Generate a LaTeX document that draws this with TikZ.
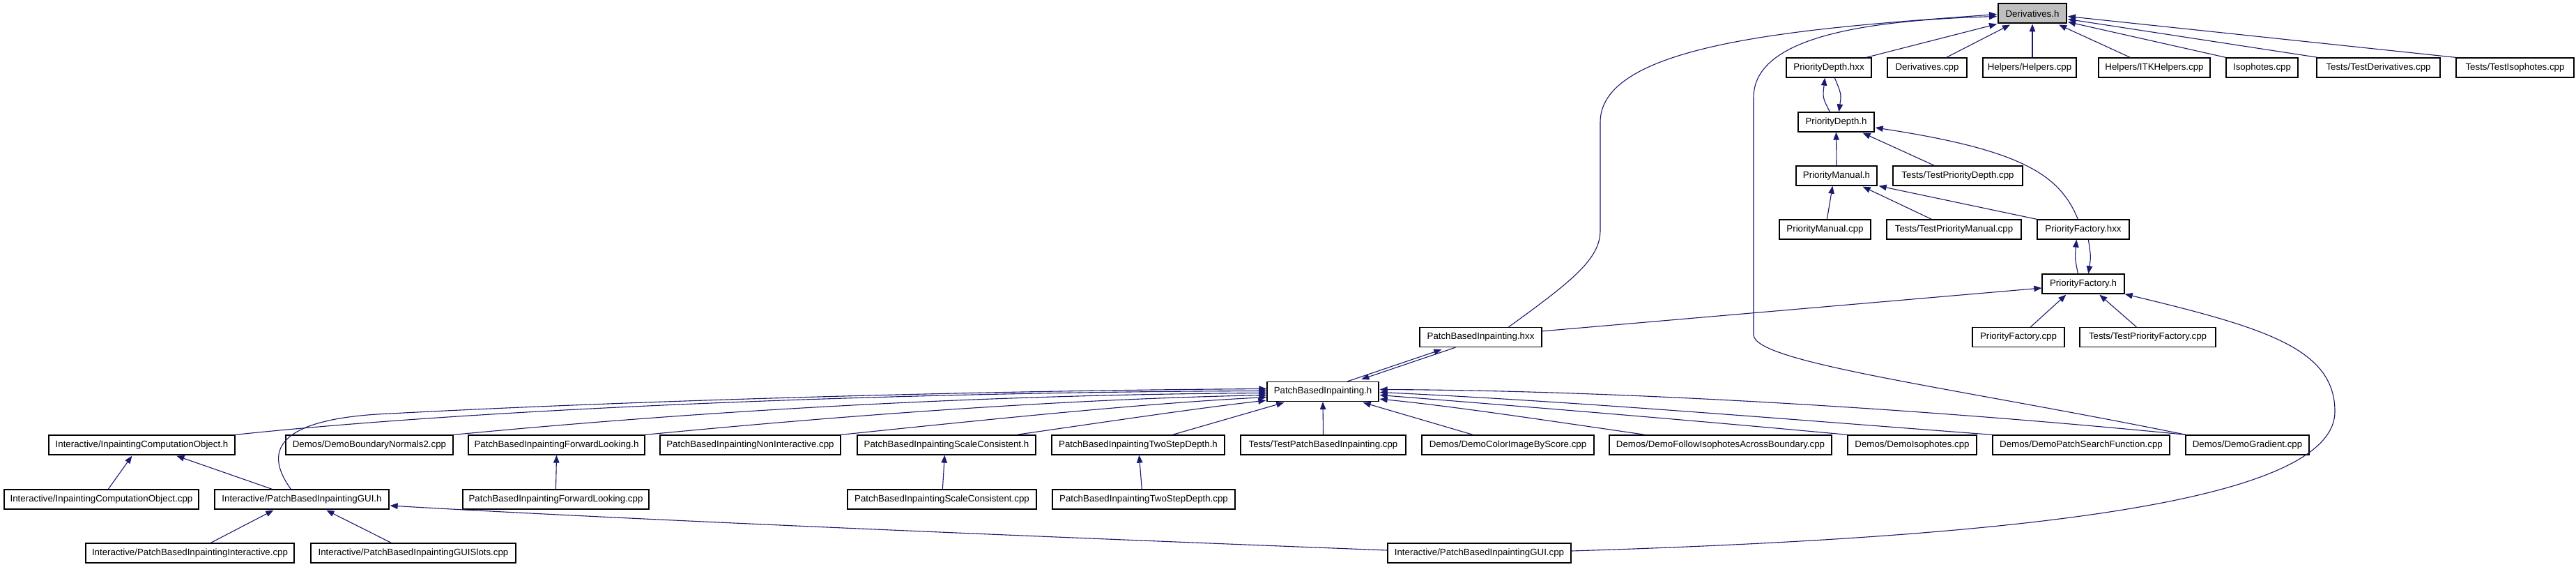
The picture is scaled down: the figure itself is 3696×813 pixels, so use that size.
\documentclass[tikz,border=0pt]{standalone}
\usepackage{fontspec}
\setmainfont{Liberation Sans}
\usetikzlibrary{arrows.meta,calc}
\definecolor{mb}{HTML}{191970}
\definecolor{focusgray}{HTML}{BFBFBF}
\tikzset{
  box/.style={draw=black, line width=1.3pt, fill=white, rectangle, inner sep=0pt,
    minimum height=28pt, font=\fontsize{13.3}{16}\selectfont},
  focusbox/.style={box, fill=focusgray, line width=2pt},
  edge/.style={draw=mb, line width=1.1pt, -{Triangle[length=11pt,width=8.5pt]}},
}
\begin{document}
\begin{tikzpicture}[x=1pt,y=-1pt]
\fill[white] (0,0) rectangle (3696,813);
\useasboundingbox (0,0) rectangle (3696,813);
% row 0
\node[focusbox, minimum width=98pt] (deriv) at (2916,19.5) {Derivatives.h};
% row 1
\node[box, minimum width=122pt] (pdhxx) at (2624,97) {PriorityDepth.hxx};
\node[box, minimum width=114pt] (dcpp) at (2765,97) {Derivatives.cpp};
\node[box, minimum width=134pt] (helpers) at (2912,97) {Helpers/Helpers.cpp};
\node[box, minimum width=160pt] (itk) at (3091,97) {Helpers/ITKHelpers.cpp};
\node[box, minimum width=103pt] (iso) at (3245.5,97) {Isophotes.cpp};
\node[box, minimum width=177pt] (tder) at (3412.5,97) {Tests/TestDerivatives.cpp};
\node[box, minimum width=169pt] (tiso) at (3608.5,97) {Tests/TestIsophotes.cpp};
% row 2
\node[box, minimum width=109pt] (pdh) at (2634.5,175) {PriorityDepth.h};
% row 3
\node[box, minimum width=116pt] (pmh) at (2635,252) {PriorityManual.h};
\node[box, minimum width=186pt] (tpd) at (2809,252) {Tests/TestPriorityDepth.cpp};
% row 4
\node[box, minimum width=131pt] (pmcpp) at (2618.5,329) {PriorityManual.cpp};
\node[box, minimum width=193pt] (tpm) at (2803.5,329) {Tests/TestPriorityManual.cpp};
\node[box, minimum width=132pt] (pfhxx) at (2989,329) {PriorityFactory.hxx};
% row 5
\node[box, minimum width=118pt] (pfh) at (2989,407) {PriorityFactory.h};
% row 6
\node[box, minimum width=175pt] (pbihxx) at (2124.5,483.5) {PatchBasedInpainting.hxx};
\node[box, minimum width=132pt] (pfcpp) at (2896,483.5) {PriorityFactory.cpp};
\node[box, minimum width=195pt] (tpf) at (3081.5,483.5) {Tests/TestPriorityFactory.cpp};
% row 7
\node[box, minimum width=160pt] (pbih) at (1898,561.5) {PatchBasedInpainting.h};
% row 8
\node[box, minimum width=267pt] (icoh) at (203.5,638) {Interactive/InpaintingComputationObject.h};
\node[box, minimum width=240pt] (dbn) at (530,638) {Demos/DemoBoundaryNormals2.cpp};
\node[box, minimum width=253pt] (fwh) at (798.5,638) {PatchBasedInpaintingForwardLooking.h};
\node[box, minimum width=259pt] (nonint) at (1076.5,638) {PatchBasedInpaintingNonInteractive.cpp};
\node[box, minimum width=256pt] (sch) at (1358,638) {PatchBasedInpaintingScaleConsistent.h};
\node[box, minimum width=248pt] (tsh) at (1633,638) {PatchBasedInpaintingTwoStepDepth.h};
\node[box, minimum width=237pt] (tpbi) at (1898.5,638) {Tests/TestPatchBasedInpainting.cpp};
\node[box, minimum width=247pt] (dcis) at (2163.5,638) {Demos/DemoColorImageByScore.cpp};
\node[box, minimum width=319pt] (dfi) at (2468.5,638) {Demos/DemoFollowIsophotesAcrossBoundary.cpp};
\node[box, minimum width=185pt] (diso) at (2743.5,638) {Demos/DemoIsophotes.cpp};
\node[box, minimum width=254pt] (dps) at (2986,638) {Demos/DemoPatchSearchFunction.cpp};
\node[box, minimum width=177pt] (dgr) at (3224.5,638) {Demos/DemoGradient.cpp};
% row 9
\node[box, minimum width=279pt] (icocpp) at (145.5,716) {Interactive/InpaintingComputationObject.cpp};
\node[box, minimum width=250pt] (guih) at (433,716) {Interactive/PatchBasedInpaintingGUI.h};
\node[box, minimum width=267pt] (fwcpp) at (797.5,716) {PatchBasedInpaintingForwardLooking.cpp};
\node[box, minimum width=271pt] (sccpp) at (1351.5,716) {PatchBasedInpaintingScaleConsistent.cpp};
\node[box, minimum width=262pt] (tscpp) at (1641,716) {PatchBasedInpaintingTwoStepDepth.cpp};
% row 10
\node[box, minimum width=299pt] (guiint) at (272.5,793) {Interactive/PatchBasedInpaintingInteractive.cpp};
\node[box, minimum width=294pt] (guislots) at (593,793) {Interactive/PatchBasedInpaintingGUISlots.cpp};
\node[box, minimum width=263pt] (guicpp) at (2122.5,793) {Interactive/PatchBasedInpaintingGUI.cpp};

% edges into Derivatives.h
\draw[edge] ($(pdhxx.north east)+(-8,0)$) -- ($(deriv.south west)+(-1,0)$);
\draw[edge] ($(dcpp.north east)+(-30,0)$) -- ($(deriv.south west)+(18,1)$);
\draw[edge] ($(helpers.north)+(4,0)$) -- (deriv.south);
\draw[edge] ($(itk.north west)+(46,0)$) -- ($(deriv.south east)+(-12,1)$);
\draw[edge] (iso.north west) -- ($(deriv.south east)+(1,-3)$);
\draw[edge] ($(tder.north west)+(2,0)$) -- ($(deriv.south east)+(1,-7)$);
\draw[edge] (tiso.north west) -- ($(deriv.south east)+(1,-11)$);
\draw[edge] ($(pbihxx.north)+(40,0)$) .. controls (2260,400) and (2296,370) .. (2296,330)
  -- (2296,175) .. controls (2296,60) and (2600,40) .. ($(deriv.north west)+(-1,16)$);
\draw[edge] ($(dgr.north west)+(1,0)$) .. controls (2800,555) and (2516,520) .. (2516,480)
  -- (2516,140) .. controls (2516,60) and (2650,30) .. ($(deriv.north west)+(-1,19)$);

% PriorityDepth
\draw[edge] ($(pdh.north west)+(46,0)$) .. controls (2615,140) .. ($(pdhxx.south west)+(56,0)$);
\draw[edge] ($(pdhxx.south west)+(70,0)$) .. controls (2642,135) .. ($(pdh.north west)+(59,0)$);
\draw[edge] (pmh.north) -- (pdh.south);
\draw[edge] ($(tpd.north west)+(60,0)$) -- ($(pdh.south east)+(-17,1)$);
\draw[edge] ($(pfhxx.north west)+(59,0)$) .. controls (2955,250) and (2900,215) .. ($(pdh.east)+(1,8)$);

% PriorityManual
\draw[edge] ($(pmcpp.north west)+(69,0)$) -- ($(pmh.south west)+(53,0)$);
\draw[edge] ($(tpm.north west)+(65,0)$) -- ($(pmh.south east)+(-21,1)$);
\draw[edge] (pfhxx.north west) -- ($(pmh.south east)+(2,0)$);

% PriorityFactory
\draw[edge] ($(pfh.north west)+(52,0)$) .. controls (2977,370) .. ($(pfhxx.south west)+(57,0)$);
\draw[edge] ($(pfhxx.south west)+(74,0)$) .. controls (3000,368) .. ($(pfh.north west)+(67,0)$);
\draw[edge] ($(pbihxx.north east)+(0,6)$) -- ($(pfh.west)+(0,6)$);
\draw[edge] ($(pfcpp.north west)+(84,0)$) -- ($(pfh.south west)+(35,1)$);
\draw[edge] ($(tpf.north west)+(82,0)$) -- ($(pfh.south west)+(83,1)$);
\draw[edge] ($(guicpp.east)+(0,-3)$) .. controls (2900,770) and (3350,720) .. (3350,590)
  .. controls (3350,500) and (3250,470) .. (pfh.south east);

% PatchBasedInpainting
\draw[edge] ($(pbih.north west)+(116,0)$) -- ($(pbihxx.south west)+(32,3)$);
\draw[edge] ($(pbihxx.south west)+(52,0)$) -- ($(pbih.north west)+(136,-3)$);
\draw[edge] (icoh.north east) .. controls (700,585) and (1300,562) .. ($(pbih.west)+(0,-1)$);
\draw[edge] ($(guih.north west)+(110,0)$) .. controls (380,650) and (390,600) .. (560,593)
  .. controls (900,575) and (1400,560) .. ($(pbih.west)+(0,-4)$);
\draw[edge] (dbn.north east) .. controls (1000,590) and (1400,566) .. ($(pbih.west)+(0,2)$);
\draw[edge] (fwh.north east) .. controls (1250,592) and (1550,572) .. ($(pbih.west)+(0,5)$);
\draw[edge] (nonint.north east) .. controls (1450,598) and (1650,578) .. ($(pbih.west)+(0,8)$);
\draw[edge] ($(sch.north east)+(-28,0)$) .. controls (1600,603) and (1720,585) .. ($(pbih.south west)+(-1,-2)$);
\draw[edge] ($(tsh.north west)+(174,0)$) -- ($(pbih.south west)+(25,1)$);
\draw[edge] (tpbi.north) -- (pbih.south);
\draw[edge] ($(dcis.north west)+(74,0)$) -- ($(pbih.south east)+(-23,1)$);
\draw[edge] ($(dfi.north west)+(52,0)$) .. controls (2200,600) and (2080,582) .. ($(pbih.south east)+(1,-4)$);
\draw[edge] (diso.north west) .. controls (2400,600) and (2150,580) .. ($(pbih.east)+(1,5)$);
\draw[edge] (dps.north west) .. controls (2550,600) and (2250,575) .. ($(pbih.east)+(1,1)$);
\draw[edge] ($(dgr.north west)+(1,0)$) .. controls (2800,590) and (2350,560) .. ($(pbih.east)+(1,-3)$);

% lower level
\draw[edge] ($(icocpp.north west)+(150,0)$) -- ($(icoh.south west)+(120,1)$);
\draw[edge] ($(guih.north west)+(83,0)$) -- ($(icoh.south west)+(184,1)$);
\draw[edge] (fwcpp.north) -- (fwh.south);
\draw[edge] ($(sccpp.north west)+(137,0)$) -- ($(sch.south west)+(126,0)$);
\draw[edge] ($(tscpp.north west)+(129,0)$) -- ($(tsh.south west)+(126,0)$);
\draw[edge] ($(guiint.north west)+(180,0)$) -- ($(guih.south west)+(85,1)$);
\draw[edge] ($(guislots.north west)+(116,0)$) -- ($(guih.south west)+(161,1)$);
\draw[edge] ($(guicpp.west)+(0,-4)$) .. controls (1500,770) and (900,745) .. ($(guih.east)+(1,9)$);
\end{tikzpicture}
\end{document}
